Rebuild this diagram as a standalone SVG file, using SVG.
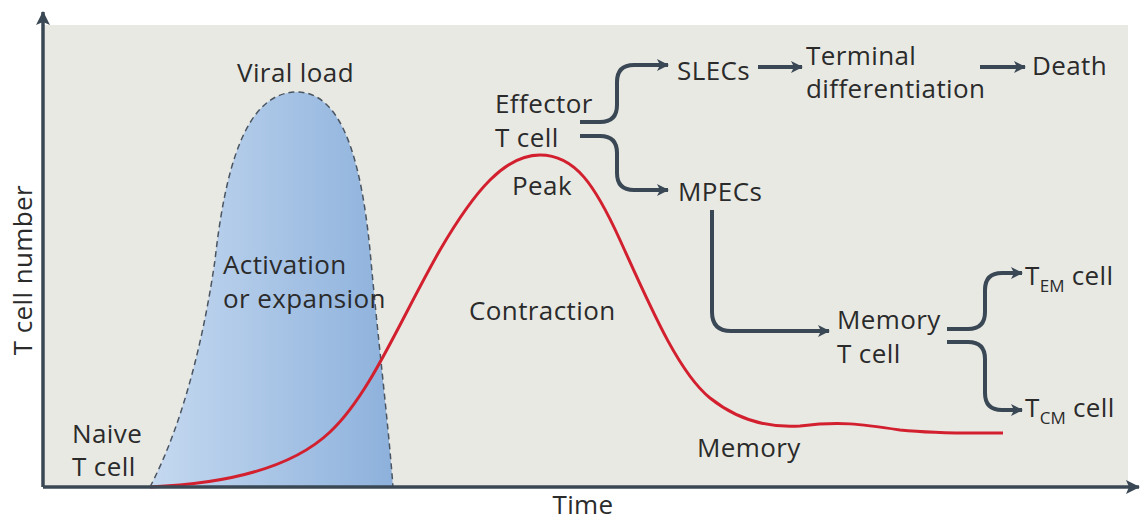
<svg xmlns="http://www.w3.org/2000/svg" width="1140" height="520" viewBox="0 0 1140 520">
  <style>
    .t { font-family: "Open Sans", "Noto Sans", "Liberation Sans", sans-serif; font-size: 26px; letter-spacing: 0.4px; fill: #2b2b2b; }
    .sub { font-size: 17px; letter-spacing: 0; }
    .conn { fill: none; stroke: #3a4855; stroke-width: 4; stroke-linecap: butt; }
    .axis { fill: none; stroke: #3a4855; stroke-width: 3.5; }
  </style>
  <defs>
    <linearGradient id="vg" x1="150" y1="0" x2="393" y2="0" gradientUnits="userSpaceOnUse">
      <stop offset="0" stop-color="#c5d9f0"/>
      <stop offset="1" stop-color="#8db1dc"/>
    </linearGradient>
    <marker id="ah" viewBox="0 0 12 12" markerWidth="12" markerHeight="12" refX="11" refY="6" orient="auto" markerUnits="userSpaceOnUse">
      <path d="M0,0 L12,6 L0,12 L3,6 Z" fill="#3a4855"/>
    </marker>
    <marker id="axh" viewBox="0 0 14 14" markerWidth="14" markerHeight="14" refX="13" refY="7" orient="auto" markerUnits="userSpaceOnUse">
      <path d="M0,0 L14,7 L0,14 L3,7 Z" fill="#3a4855"/>
    </marker>
  </defs>
  <rect width="1140" height="520" fill="#ffffff"/>
  <rect x="43" y="25" width="1085" height="462" fill="#e9e9e4"/>

  <g id="viral-load">
    <path d="M150,487 C185,420 205,330 215,260 C225,170 245,92 297,92 C345,92 362,170 370,250 C378,340 388,420 393,487 Z" fill="url(#vg)"/>
    <path d="M150,487 C185,420 205,330 215,260 C225,170 245,92 297,92 C345,92 362,170 370,250 C378,340 388,420 393,487" fill="none" stroke="#4a5561" stroke-width="1.5" stroke-dasharray="6 4"/>
  </g>

  <g id="t-cell-curve">
    <path d="M150,487 C220,484 290,470 330,432 C370,395 400,320 440,250 C475,190 505,155 540,155 C575,155 595,185 620,240 C650,306 678,372 710,398 C740,422 770,428 800,426 C840,421 860,424 900,430 C940,434 970,433 1003,433" fill="none" stroke="#d3202f" stroke-width="3"/>
  </g>

  <g id="axes">
    <line class="axis" x1="43" y1="487" x2="43" y2="12" marker-end="url(#axh)"/>
    <line class="axis" x1="43" y1="487" x2="1139" y2="487" marker-end="url(#axh)"/>
    <text class="t" x="583" y="514" text-anchor="middle">Time</text>
    <text class="t" transform="translate(32,270) rotate(-90)" text-anchor="middle">T cell number</text>
  </g>

  <g id="connectors">
    <path class="conn" d="M580,122 H600 Q617,122 617,105 V82 Q617,65 634,65 H668" marker-end="url(#ah)"/>
    <path class="conn" d="M580,136 H600 Q617,136 617,153 V173 Q617,190 634,190 H668" marker-end="url(#ah)"/>
    <path class="conn" d="M758,67 H802" marker-end="url(#ah)"/>
    <path class="conn" d="M980,67 H1025" marker-end="url(#ah)"/>
    <path class="conn" d="M712,210 V312 Q712,331 731,331 H829" marker-end="url(#ah)"/>
    <path class="conn" d="M947,329 H968 Q985,329 985,312 V290 Q985,273 1002,273 H1022" marker-end="url(#ah)"/>
    <path class="conn" d="M947,342 H968 Q985,342 985,359 V393 Q985,410 1002,410 H1022" marker-end="url(#ah)"/>
  </g>

  <g id="label-viral-load"><text class="t" x="237" y="82">Viral load</text></g>
  <g id="label-activation"><text class="t" x="223" y="274">Activation</text><text class="t" x="223" y="308">or expansion</text></g>
  <g id="node-naive"><text class="t" x="72" y="443">Naive</text><text class="t" x="72" y="476">T cell</text></g>
  <g id="node-effector"><text class="t" x="495" y="113">Effector</text><text class="t" x="495" y="147">T cell</text></g>
  <g id="label-peak"><text class="t" x="512" y="195">Peak</text></g>
  <g id="label-contraction"><text class="t" x="469" y="320">Contraction</text></g>
  <g id="label-memory"><text class="t" x="697" y="457">Memory</text></g>
  <g id="node-slecs"><text class="t" x="677" y="80">SLECs</text></g>
  <g id="node-mpecs"><text class="t" x="678" y="201">MPECs</text></g>
  <g id="node-terminal"><text class="t" x="806" y="65">Terminal</text><text class="t" x="806" y="98">differentiation</text></g>
  <g id="node-death"><text class="t" x="1032" y="75">Death</text></g>
  <g id="node-memory-t"><text class="t" x="837" y="329">Memory</text><text class="t" x="837" y="363">T cell</text></g>
  <g id="node-tem"><text class="t" x="1025" y="285">T<tspan class="sub" dy="7">EM</tspan><tspan dy="-7"> cell</tspan></text></g>
  <g id="node-tcm"><text class="t" x="1025" y="417">T<tspan class="sub" dy="7">CM</tspan><tspan dy="-7"> cell</tspan></text></g>
</svg>
